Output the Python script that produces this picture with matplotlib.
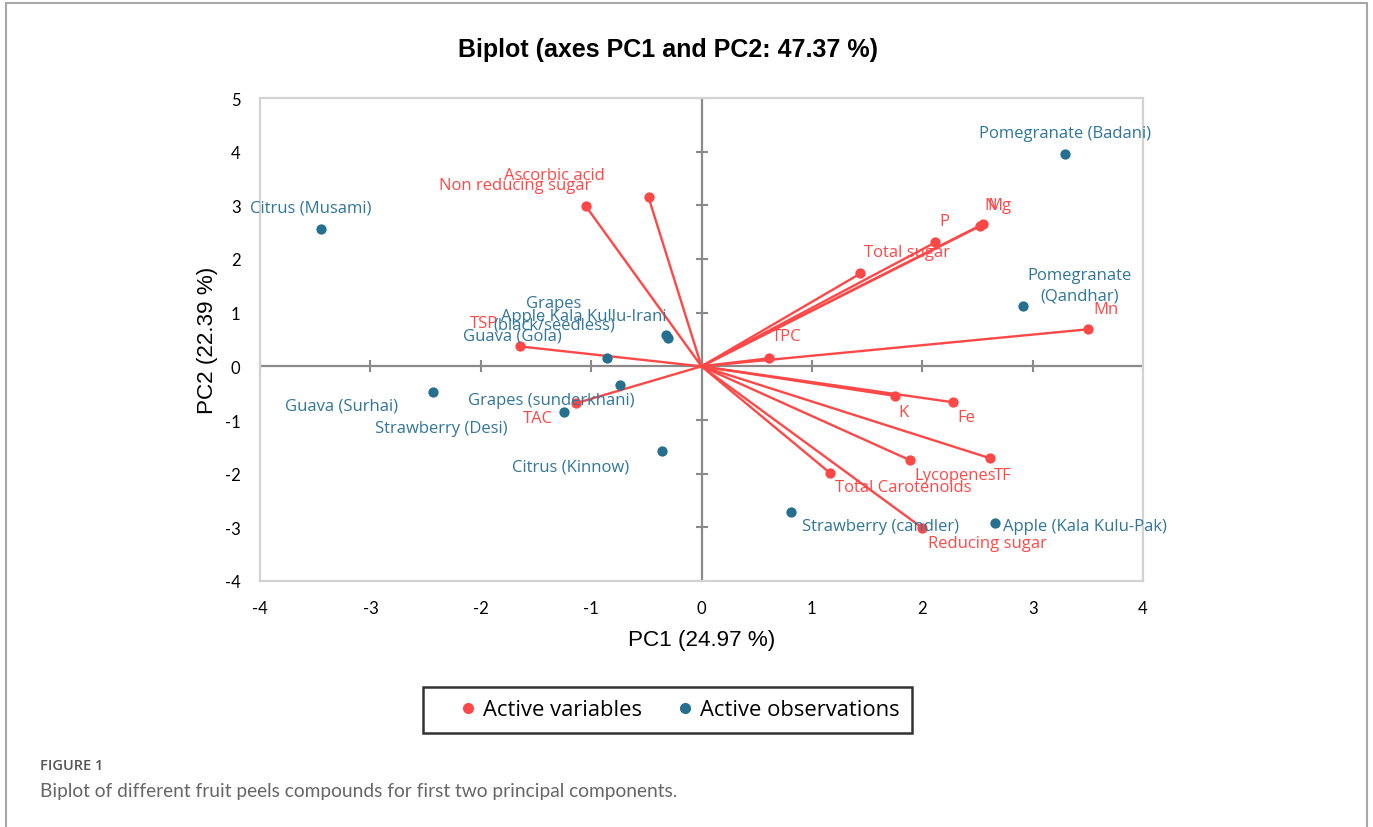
import matplotlib
matplotlib.use("Agg")
import matplotlib.pyplot as plt
from matplotlib.lines import Line2D
from matplotlib.patches import Rectangle

plt.rcParams["axes.unicode_minus"] = False

# active variables (PC1, PC2 loadings, biplot scaled)
var_names = ["Ascorbic acid", "Non reducing sugar", "TSP", "TAC", "TPC", "Total sugar",
             "P", "N", "Mg", "Mn", "K", "Fe", "TF", "Lycopenes", "Total Carotenoids",
             "Reducing sugar"]
var_pc1 = [-0.48, -1.05, -1.64, -1.14, 0.61, 1.44, 2.12, 2.52, 2.55, 3.50, 1.75, 2.28,
           2.61, 1.89, 1.16, 2.00]
var_pc2 = [3.15, 2.99, 0.37, -0.69, 0.15, 1.73, 2.31, 2.61, 2.65, 0.69, -0.55, -0.67,
           -1.71, -1.75, -1.98, -3.01]

# active observations
obs_names = ["Pomegranate (Badani)", "Citrus (Musami)", "Pomegranate\n(Qandhar)",
             "Grapes\n(black/seedless)", "Apple Kala Kullu-Irani", "Guava (Gola)",
             "Grapes (sunderkhani)", "Guava (Surhai)", "Strawberry (Desi)",
             "Citrus (Kinnow)", "Strawberry (candler)", "Apple (Kala Kulu-Pak)"]
obs_pc1 = [3.29, -3.45, 2.91, -0.32, -0.30, -0.86, -0.74, -2.43, -1.25, -0.36, 0.81, 2.66]
obs_pc2 = [3.96, 2.56, 1.12, 0.59, 0.53, 0.16, -0.34, -0.47, -0.85, -1.58, -2.71, -2.91]

x_ticks = [-4, -3, -2, -1, 0, 1, 2, 3, 4]
y_ticks = [-4, -3, -2, -1, 0, 1, 2, 3, 4, 5]

# label offsets in pixels (right, up) from each point
var_offsets = {
    "Ascorbic acid": (-94, 22), "Non reducing sugar": (-70, 21), "TSP": (-36, 23),
    "TAC": (-38, -15), "TPC": (18, 22), "Total sugar": (47, 21), "P": (9, 21),
    "N": (11, 21), "Mg": (16, 19), "Mn": (18, 20), "K": (9, -16), "Fe": (13, -15),
    "TF": (13, -17), "Lycopenes": (45, -15), "Total Carotenoids": (74, -14),
    "Reducing sugar": (65, -15),
}
obs_offsets = {
    "Pomegranate (Badani)": (0, 21), "Citrus (Musami)": (-10, 21),
    "Pomegranate\n(Qandhar)": (57, 21), "Grapes\n(black/seedless)": (-112, 21),
    "Apple Kala Kullu-Irani": (-85, 22), "Guava (Gola)": (-94, 22),
    "Grapes (sunderkhani)": (-69, -15), "Guava (Surhai)": (-92, -14),
    "Strawberry (Desi)": (-122, -16), "Citrus (Kinnow)": (-91, -15),
    "Strawberry (candler)": (90, -14), "Apple (Kala Kulu-Pak)": (90, -3),
}

red = "#fe4848"
blue = "#276f8f"
blue_txt = "#307699"
axis_grey = "#8a8a8a"

W, H = 1373, 828
fig = plt.figure(figsize=(W / 100, H / 100), dpi=100)
ax = fig.add_axes([260 / W, 1 - 582 / H, 883 / W, 483 / H])
ax.set_xlim(-4, 4)
ax.set_ylim(-4, 5)

for s in ax.spines.values():
    s.set_color("#d2d2d2")
    s.set_linewidth(1.6)

ax.axhline(0, color=axis_grey, lw=1.6, zorder=1)
ax.axvline(0, color=axis_grey, lw=1.6, zorder=1)
ax.plot(x_ticks, [0] * len(x_ticks), ls="none", marker="|", ms=9, mew=1.5,
        color=axis_grey, zorder=1)
ax.plot([0] * len(y_ticks), y_ticks, ls="none", marker="_", ms=9, mew=1.5,
        color=axis_grey, zorder=1)

ax.set_xticks(x_ticks)
ax.set_yticks(y_ticks)
ax.tick_params(length=0, labelsize=12, pad=14)
for lab in ax.get_xticklabels() + ax.get_yticklabels():
    lab.set_family("Lato")

# variable vectors
for x, y in zip(var_pc1, var_pc2):
    ax.plot([0, x], [0, y], color=red, lw=1.7, zorder=2)
ax.scatter(var_pc1, var_pc2, s=55, color=red, zorder=3, linewidths=0)
for name, x, y in zip(var_names, var_pc1, var_pc2):
    ax.annotate(name, (x, y), xytext=var_offsets[name], textcoords="offset pixels",
                ha="center", va="center", fontsize=12, color=red,
                family="Open Sans", zorder=4)

ax.scatter(obs_pc1, obs_pc2, s=55, color=blue, zorder=3, linewidths=0)
for name, x, y in zip(obs_names, obs_pc1, obs_pc2):
    ax.annotate(name, (x, y), xytext=obs_offsets[name], textcoords="offset pixels",
                ha="center", va="center", fontsize=12, color=blue_txt,
                family="Open Sans", linespacing=1.4, zorder=4)

ax.set_xlabel("PC1 (24.97 %)", fontsize=16.2, family="Liberation Sans", labelpad=9)
ax.set_ylabel("PC2 (22.39 %)", fontsize=16.2, family="Liberation Sans", labelpad=5)

fig.text(668 / W, 1 - 50 / H, "Biplot (axes PC1 and PC2: 47.37 %)", ha="center",
         va="center", fontsize=18, weight="bold", family="Liberation Sans")

handles = [
    Line2D([], [], ls="none", marker="o", ms=7, color=red, label="Active variables"),
    Line2D([], [], ls="none", marker="o", ms=7, color=blue, label="Active observations"),
]
leg = fig.legend(handles=handles, loc="center", bbox_to_anchor=(667.5 / W, 1 - 711 / H),
                 ncol=2, frameon=True, fancybox=False, edgecolor="black",
                 prop={"family": "Open Sans", "size": 15.8}, borderpad=0.55,
                 columnspacing=0.45, handletextpad=-0.8, handlelength=3,
                 borderaxespad=0)
leg.get_frame().set_linewidth(1.8)

fig.text(40 / W, 1 - 766 / H, "FIGURE 1", fontsize=10.5, color="#555555",
         family="Open Sans", weight="semibold", va="center")
fig.text(40 / W, 1 - 792 / H,
         "Biplot of different fruit peels compounds for first two principal components.",
         fontsize=13.8, color="#666666", family="Lato", va="center")

fig.add_artist(Rectangle((6 / W, -0.05), (1367 - 6) / W, 1.05 - 4 / H,
                         transform=fig.transFigure, fill=False, edgecolor="#a8a8a8",
                         lw=1.5))

fig.savefig("out.png", dpi=100)
